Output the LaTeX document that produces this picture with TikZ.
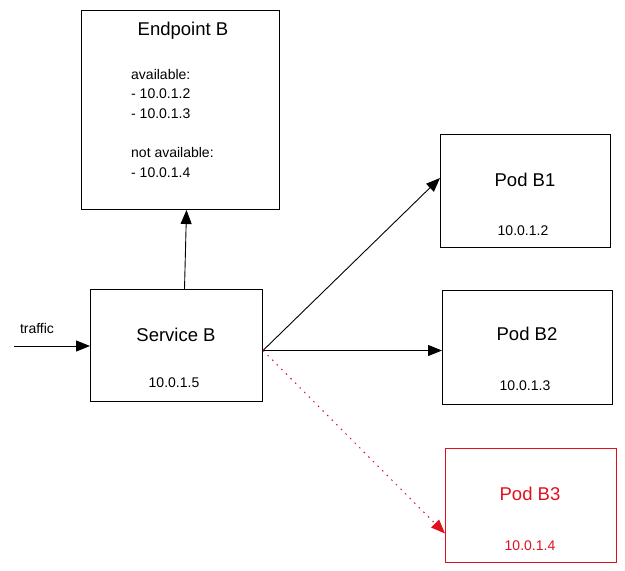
\documentclass[tikz,border=0pt]{standalone}
\usepackage{fontspec}
\setmainfont{Liberation Sans}
\usetikzlibrary{arrows.meta}
\definecolor{xred}{HTML}{E0101E}
\tikzset{
  box/.style={draw, line width=1pt, anchor=north west, inner sep=0pt},
  ttl/.style={font=\fontsize{18.5}{22}\selectfont},
  ip/.style={font=\fontsize{14}{16}\selectfont},
  conn/.style={line width=0.9pt, -{Triangle[length=14pt,width=11pt]}},
}
\begin{document}
\begin{tikzpicture}[x=1pt,y=-1pt]
\useasboundingbox (0,0) rectangle (625,571);
% boxes
\node[box, minimum width=198pt, minimum height=199pt] (ep) at (81,10) {};
\node[box, minimum width=172pt, minimum height=112pt] (svc) at (90,289) {};
\node[box, minimum width=170pt, minimum height=113pt] (b1) at (440,134) {};
\node[box, minimum width=170pt, minimum height=114pt] (b2) at (442,290) {};
\node[box, draw=xred, minimum width=171pt, minimum height=114pt] (b3) at (445,448) {};
% texts
\node[ttl] (eptitle) at (183,31) {Endpoint B};
\node[anchor=north west, align=left, inner sep=0pt, font=\fontsize{14}{19.6}\selectfont] (eplist) at (131,69)
  {available:\\- 10.0.1.2\\- 10.0.1.3\\[19.6pt]not available:\\- 10.0.1.4};
\node[ttl] (svctitle) at (176,335) {Service B};
\node[ip] (svcip) at (174,383) {10.0.1.5};
\node[ttl] (b1title) at (525,180) {Pod B1};
\node[ip] (b1ip) at (523,231) {10.0.1.2};
\node[ttl] (b2title) at (527,334) {Pod B2};
\node[ip] (b2ip) at (525,386) {10.0.1.3};
\node[ttl, text=xred] (b3title) at (530,494) {Pod B3};
\node[ip, text=xred] (b3ip) at (530,546) {10.0.1.4};
\node[font=\fontsize{14}{16}\selectfont] (traffic) at (37,328) {traffic};
% connectors
\coordinate (tin) at (14,346);
\draw[conn] (tin) -- ([yshift=-57pt]svc.north west);
\draw[conn] ([xshift=8pt]svc.north) -- ([xshift=6pt]ep.south);
\draw[conn] ([yshift=-5pt]svc.east) -- ([yshift=13pt]b1.west);
\draw[conn] ([yshift=-5pt]svc.east) -- ([yshift=-3pt]b2.west);
\draw[conn, xred, line width=1pt, dash pattern=on 1.5pt off 5pt] ([yshift=-5pt]svc.east) -- ([yshift=-28pt]b3.west);
\end{tikzpicture}
\end{document}
